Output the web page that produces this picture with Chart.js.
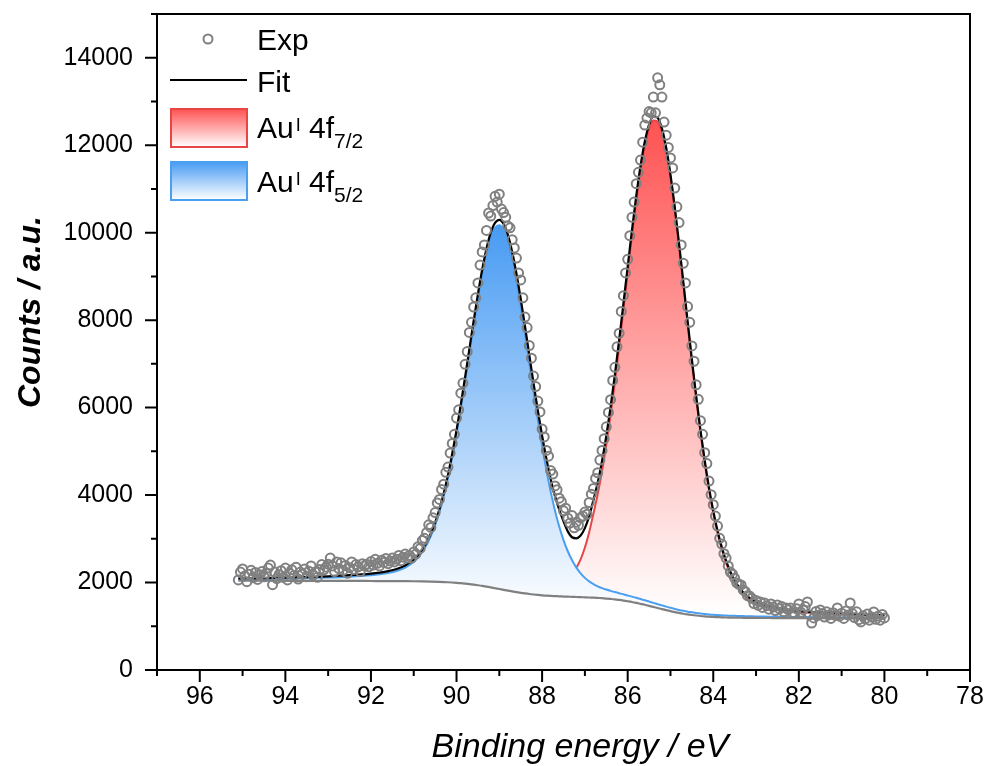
<!DOCTYPE html>
<html>
<head>
<meta charset="utf-8">
<script src="https://cdn.jsdelivr.net/npm/chart.js@4.4.1/dist/chart.umd.min.js"></script>
<style>
  html, body { margin: 0; padding: 0; background: #fff; }
  canvas { display: block; }
</style>
</head>
<body>
<canvas id="xpsChart" width="992" height="766"></canvas>
<script>
// axis ticks
var xTicks = [96, 94, 92, 90, 88, 86, 84, 82, 80, 78];
var xMinorTicks = [97, 95, 93, 91, 89, 87, 85, 83, 81, 79];
var yTicks = [0, 2000, 4000, 6000, 8000, 10000, 12000, 14000];
var yMinorTicks = [1000, 3000, 5000, 7000, 9000, 11000, 13000, 15000];

// measured points (Exp)
var expEnergy = [
  95.1,95.05,95,94.95,94.9,94.85,94.8,94.75,94.7,94.65,94.6,94.55,94.5,94.45,94.4,94.35,94.3,94.25,94.2,94.15,
  94.1,94.05,94,93.95,93.9,93.85,93.8,93.75,93.7,93.65,93.6,93.55,93.5,93.45,93.4,93.35,93.3,93.25,93.2,93.15,
  93.1,93.05,93,92.95,92.9,92.85,92.8,92.75,92.7,92.65,92.6,92.55,92.5,92.45,92.4,92.35,92.3,92.25,92.2,92.15,
  92.1,92.05,92,91.95,91.9,91.85,91.8,91.75,91.7,91.65,91.6,91.55,91.5,91.45,91.4,91.35,91.3,91.25,91.2,91.15,
  91.1,91.05,91,90.95,90.9,90.85,90.8,90.75,90.7,90.65,90.6,90.55,90.5,90.45,90.4,90.35,90.3,90.25,90.2,90.15,
  90.1,90.05,90,89.95,89.9,89.85,89.8,89.75,89.7,89.65,89.6,89.55,89.5,89.45,89.4,89.35,89.3,89.25,89.2,89.15,
  89.1,89.05,89,88.95,88.9,88.85,88.8,88.75,88.7,88.65,88.6,88.55,88.5,88.45,88.4,88.35,88.3,88.25,88.2,88.15,
  88.1,88.05,88,87.95,87.9,87.85,87.8,87.75,87.7,87.65,87.6,87.55,87.5,87.45,87.4,87.35,87.3,87.25,87.2,87.15,
  87.1,87.05,87,86.95,86.9,86.85,86.8,86.75,86.7,86.65,86.6,86.55,86.5,86.45,86.4,86.35,86.3,86.25,86.2,86.15,
  86.1,86.05,86,85.95,85.9,85.85,85.8,85.75,85.7,85.65,85.6,85.55,85.5,85.45,85.4,85.35,85.3,85.25,85.2,85.15,
  85.1,85.05,85,84.95,84.9,84.85,84.8,84.75,84.7,84.65,84.6,84.55,84.5,84.45,84.4,84.35,84.3,84.25,84.2,84.15,
  84.1,84.05,84,83.95,83.9,83.85,83.8,83.75,83.7,83.65,83.6,83.55,83.5,83.45,83.4,83.35,83.3,83.25,83.2,83.15,
  83.1,83.05,83,82.95,82.9,82.85,82.8,82.75,82.7,82.65,82.6,82.55,82.5,82.45,82.4,82.35,82.3,82.25,82.2,82.15,
  82.1,82.05,82,81.95,81.9,81.85,81.8,81.75,81.7,81.65,81.6,81.55,81.5,81.45,81.4,81.35,81.3,81.25,81.2,81.15,
  81.1,81.05,81,80.95,80.9,80.85,80.8,80.75,80.7,80.65,80.6,80.55,80.5,80.45,80.4,80.35,80.3,80.25,80.2,80.15,
  80.1,80.05,80
];
var expCounts = [
  2060,2240,2310,2150,2020,2190,2280,2110,2230,2070,2180,2250,2130,2210,2330,2400,1950,2240,2090,2180,
  2270,2120,2330,2060,2210,2290,2160,2350,2080,2240,2190,2310,2130,2260,2380,2170,2240,2120,2300,2410,
  2290,2350,2420,2560,2380,2250,2470,2320,2450,2280,2390,2210,2340,2470,2300,2410,2360,2250,2430,2380,
  2420,2360,2480,2400,2530,2440,2380,2510,2460,2550,2430,2490,2560,2470,2530,2620,2500,2580,2650,2560,
  2620,2560,2700,2650,2820,2780,2960,3010,3140,3320,3260,3480,3600,3820,3900,4130,4250,4520,4640,4960,
  5180,5390,5760,5950,6330,6560,6990,7280,7720,7950,8300,8510,8850,9260,9560,9720,10050,10450,10380,10620,
  10830,10700,10880,10540,10460,10350,10150,10110,9840,9650,9420,9080,8920,8510,8070,7830,7420,7130,6720,6480,
  6150,5900,5510,5330,5020,4890,4560,4480,4210,4120,3930,3850,3640,3700,3470,3360,3530,3250,3380,3310,
  3480,3520,3610,3560,3830,4020,4150,4380,4510,4800,5020,5290,5560,5890,6180,6620,6920,7390,7700,8200,
  8560,9080,9390,9930,10350,10700,11120,11380,11660,12070,12460,12620,12770,12740,13100,12740,13540,13380,13100,12530,
  12230,11950,11710,11480,11020,10590,10230,9720,9300,8850,8310,7950,7410,7060,6520,6190,5700,5390,4970,4720,
  4320,4010,3780,3520,3290,3010,2880,2660,2560,2380,2240,2190,2100,1990,1960,1944,1830,1790,1700,1690,
  1640,1520,1590,1480,1555,1430,1530,1470,1390,1510,1440,1360,1486,1400,1450,1330,1420,1380,1418,1310,
  1290,1400,1510,1320,1380,1450,1555,1260,1075,1190,1340,1250,1372,1290,1210,1330,1260,1180,1310,1250,
  1418,1230,1300,1180,1350,1260,1532,1290,1200,1330,1150,1098,1240,1170,1280,1140,1210,1326,1160,1230,
  1140,1270,1190
];

// fitted curves
var curveEnergy = [
  95.1, 94.5, 94.0, 93.5, 93.0, 92.5, 92.0, 91.8, 91.6, 91.4, 91.2, 91.0, 90.8, 90.6, 90.4, 90.2,
  90.0, 89.9, 89.8, 89.7, 89.6, 89.5, 89.4, 89.3, 89.2, 89.1,
  89.0, 88.9, 88.8, 88.7, 88.6, 88.5, 88.4, 88.3, 88.2, 88.1,
  88.0, 87.9, 87.8, 87.7, 87.6, 87.5, 87.4, 87.3, 87.2, 87.1,
  87.0, 86.9, 86.8, 86.7, 86.6, 86.5, 86.4, 86.3, 86.2, 86.1,
  86.0, 85.9, 85.8, 85.7, 85.6, 85.5, 85.4, 85.3, 85.2, 85.1,
  85.0, 84.9, 84.8, 84.7, 84.6, 84.5, 84.4, 84.3, 84.2, 84.1,
  84.0, 83.9, 83.8, 83.7, 83.6, 83.5, 83.4, 83.3, 83.2, 83.1,
  83.0, 82.8, 82.6, 82.4, 82.0, 81.5, 81.0, 80.5, 80.0
];
var background = [
  2042, 2041, 2040, 2039, 2038, 2037, 2035, 2034, 2033, 2032, 2031, 2029, 2026, 2022, 2016, 2007,
  1994, 1986, 1976, 1965, 1952, 1938, 1923, 1906, 1889, 1870,
  1852, 1833, 1815, 1797, 1781, 1765, 1751, 1738, 1727, 1717,
  1708, 1700, 1694, 1689, 1684, 1680, 1676, 1673, 1669, 1666,
  1662, 1658, 1654, 1648, 1642, 1634, 1625, 1615, 1602, 1588,
  1572, 1555, 1535, 1513, 1491, 1467, 1442, 1417, 1393, 1369,
  1346, 1325, 1305, 1287, 1271, 1258, 1246, 1235, 1226, 1219,
  1213, 1209, 1205, 1201, 1199, 1197, 1195, 1194, 1192, 1191,
  1190, 1189, 1188, 1187, 1185, 1183, 1182, 1181, 1180
];
var au52 = [
  2076, 2082, 2089, 2100, 2114, 2135, 2167, 2188, 2217, 2263, 2342, 2474, 2698, 3061, 3612, 4392,
  5407, 5992, 6611, 7251, 7889, 8500, 9058, 9530, 9890, 10109,
  10172, 10072, 9816, 9421, 8916, 8327, 7688, 7024, 6362, 5723,
  5121, 4571, 4079, 3649, 3280, 2971, 2715, 2508, 2341, 2211,
  2107, 2027, 1965, 1914, 1873, 1839, 1809, 1782, 1756, 1730,
  1704, 1678, 1651, 1622, 1594, 1565, 1535, 1505, 1477, 1449,
  1422, 1397, 1374, 1353, 1334, 1319, 1304, 1291, 1280, 1270,
  1262, 1257, 1251, 1245, 1242, 1238, 1235, 1232, 1229, 1227,
  1225, 1221, 1219, 1216, 1211, 1205, 1202, 1198, 1196
];
// 4f7/2 component starts at 87.3 eV
var au72Start = 87.3;
var au72 = [
  2200, 2340, 2530,
  2800, 3150, 3579, 4021, 4543, 5146, 5827, 6579, 7387, 8234,
  9094, 9937, 10725, 11419, 11982, 12374, 12565, 12540, 12300, 11860,
  11252, 10515, 9687, 8809, 7917, 7043, 6210, 5437, 4738, 4120,
  3586, 3134, 2757, 2449, 2203, 2007, 1854, 1736, 1645, 1575,
  1522, 1450, 1403, 1371, 1328, 1292, 1269, 1251, 1238
];
var fit = [
  2094, 2102, 2112, 2125, 2143, 2168, 2205, 2228, 2260, 2309, 2391, 2526, 2754, 3121, 3677, 4462,
  5483, 6072, 6694, 7338, 7980, 8595, 9157, 9634, 9999, 10224,
  10293, 10200, 9951, 9564, 9067, 8488, 7860, 7208, 6560, 5938,
  5356, 4832, 4370, 3981, 3664, 3400, 3170, 3035, 3012, 3075,
  3245, 3519, 3890, 4287, 4774, 5351, 6011, 6746, 7541, 8376,
  9226, 10060, 10841, 11528, 12085, 12472, 12658, 12628, 12384, 11940,
  11328, 10587, 9756, 8875, 7980, 7104, 6268, 5493, 4792, 4171,
  3635, 3182, 2803, 2493, 2246, 2048, 1894, 1774, 1682, 1611,
  1557, 1482, 1434, 1400, 1354, 1314, 1289, 1268, 1254
];

var FONT = '"Liberation Sans", Arial, sans-serif';
Chart.defaults.font.family = FONT;
Chart.defaults.color = '#000';

function pts(xs, ys) {
  var out = [];
  for (var i = 0; i < ys.length; i++) out.push({ x: xs[i], y: ys[i] });
  return out;
}

function peakFill(context, rgb, topValue) {
  var chart = context.chart;
  if (!chart.chartArea) return 'rgba(' + rgb + ',0.4)';
  var y = chart.scales.y;
  var g = chart.ctx.createLinearGradient(0, y.getPixelForValue(topValue), 0, y.getPixelForValue(1300));
  g.addColorStop(0, 'rgb(' + rgb + ')');
  g.addColorStop(1, 'rgb(255,255,255)');
  return g;
}

var RED = '255,82,82';
var BLUE = '72,155,243';

function drawRich(ctx, x, y, parts) {
  parts.forEach(function (p) {
    ctx.font = p.size + 'px ' + FONT;
    ctx.fillText(p.text, x, y + p.dy);
    x += ctx.measureText(p.text).width + (p.gap || 0);
  });
}

function legendBox(ctx, top, rgb, line) {
  var g = ctx.createLinearGradient(0, top, 0, top + 38);
  g.addColorStop(0, 'rgb(' + rgb + ')');
  g.addColorStop(1, 'rgb(255,255,255)');
  ctx.fillStyle = g;
  ctx.fillRect(171, top, 76, 38);
  ctx.strokeStyle = line;
  ctx.lineWidth = 2;
  ctx.strokeRect(171, top, 76, 38);
}

var frameAndLegend = {
  id: 'frameAndLegend',
  afterDraw: function (chart) {
    var ctx = chart.ctx, a = chart.chartArea;
    var xs = chart.scales.x, ys = chart.scales.y;
    ctx.save();
    ctx.strokeStyle = '#000';
    ctx.lineWidth = 2;
    ctx.strokeRect(a.left, a.top, a.right - a.left, a.bottom - a.top);
    ctx.beginPath();
    xTicks.forEach(function (v) { var p = xs.getPixelForValue(v); ctx.moveTo(p, a.bottom); ctx.lineTo(p, a.bottom + 12); });
    xMinorTicks.forEach(function (v) { var p = xs.getPixelForValue(v); ctx.moveTo(p, a.bottom); ctx.lineTo(p, a.bottom + 6); });
    yTicks.forEach(function (v) { var p = ys.getPixelForValue(v); ctx.moveTo(a.left, p); ctx.lineTo(a.left - 12, p); });
    yMinorTicks.forEach(function (v) { var p = ys.getPixelForValue(v); ctx.moveTo(a.left, p); ctx.lineTo(a.left - 6, p); });
    ctx.stroke();

    // axis titles
    ctx.fillStyle = '#000';
    ctx.textAlign = 'center';
    ctx.textBaseline = 'alphabetic';
    ctx.font = 'italic 34px ' + FONT;
    ctx.fillText('Binding energy / eV', 580, 757);
    ctx.save();
    ctx.translate(40, 312);
    ctx.rotate(-Math.PI / 2);
    ctx.font = 'italic bold 32px ' + FONT;
    ctx.fillText('Counts / a.u.', 0, 0);
    ctx.restore();

    // legend
    ctx.textAlign = 'left';
    ctx.strokeStyle = '#7f7f7f';
    ctx.lineWidth = 2;
    ctx.beginPath();
    ctx.arc(208, 39, 4.5, 0, Math.PI * 2);
    ctx.stroke();
    ctx.strokeStyle = '#000';
    ctx.beginPath();
    ctx.moveTo(170, 80);
    ctx.lineTo(247, 80);
    ctx.stroke();
    legendBox(ctx, 109, RED, '#e84545');
    legendBox(ctx, 162, BLUE, '#4a9ff0');
    ctx.fillStyle = '#000';
    drawRich(ctx, 257, 50, [{ text: 'Exp', size: 30, dy: 0 }]);
    drawRich(ctx, 257, 92, [{ text: 'Fit', size: 30, dy: 0 }]);
    drawRich(ctx, 257, 138, [
      { text: 'Au', size: 30, dy: 0, gap: 2 },
      { text: 'I', size: 18, dy: -7 },
      { text: ' 4f', size: 30, dy: 0 },
      { text: '7/2', size: 21, dy: 10 }
    ]);
    drawRich(ctx, 257, 192, [
      { text: 'Au', size: 30, dy: 0, gap: 2 },
      { text: 'I', size: 18, dy: -7 },
      { text: ' 4f', size: 30, dy: 0 },
      { text: '5/2', size: 21, dy: 10 }
    ]);
    ctx.restore();
  }
};

new Chart('xpsChart', {
  type: 'line',
  data: {
    datasets: [
      {
        label: 'Exp',
        order: 0,
        data: pts(expEnergy, expCounts),
        showLine: false,
        pointRadius: 4.5,
        pointBorderWidth: 2,
        pointBorderColor: '#808080',
        pointBackgroundColor: 'rgba(0,0,0,0)'
      },
      {
        label: 'Fit',
        order: 1,
        data: pts(curveEnergy, fit),
        borderColor: '#000',
        borderWidth: 2.2,
        pointRadius: 0,
        cubicInterpolationMode: 'monotone',
        fill: false
      },
      {
        label: 'AuI 4f5/2',
        order: 3,
        data: pts(curveEnergy, au52),
        borderColor: '#4a9ff0',
        borderWidth: 2,
        pointRadius: 0,
        cubicInterpolationMode: 'monotone',
        fill: 4,
        backgroundColor: function (c) { return peakFill(c, BLUE, 10150); }
      },
      {
        label: 'AuI 4f7/2',
        order: 4,
        data: pts(curveEnergy.slice(curveEnergy.indexOf(au72Start)), au72),
        borderColor: '#e84545',
        borderWidth: 2,
        pointRadius: 0,
        cubicInterpolationMode: 'monotone',
        fill: 4,
        backgroundColor: function (c) { return peakFill(c, RED, 12550); }
      },
      {
        label: 'Background',
        order: 2,
        data: pts(curveEnergy, background),
        borderColor: '#808080',
        borderWidth: 2.2,
        pointRadius: 0,
        cubicInterpolationMode: 'monotone',
        fill: false
      }
    ]
  },
  options: {
    responsive: false,
    animation: false,
    events: [],
    layout: { padding: { left: 0, right: 22, top: 14, bottom: 0 } },
    scales: {
      x: {
        type: 'linear',
        reverse: true,
        min: 78,
        max: 97,
        afterBuildTicks: function (axis) { axis.ticks = xTicks.map(function (v) { return { value: v }; }); },
        afterFit: function (axis) { axis.height = 96; axis.paddingLeft = 0; axis.paddingRight = 0; },
        grid: { display: false, drawTicks: false },
        border: { display: false },
        ticks: { font: { size: 25 }, color: '#000', padding: 12, maxRotation: 0, autoSkip: false,
                 callback: function (v) { return String(v); } }
      },
      y: {
        min: 0,
        max: 15000,
        afterBuildTicks: function (axis) { axis.ticks = yTicks.map(function (v) { return { value: v }; }); },
        afterFit: function (axis) { axis.width = 157; axis.paddingTop = 0; axis.paddingBottom = 0; },
        grid: { display: false, drawTicks: false },
        border: { display: false },
        ticks: { font: { size: 25 }, color: '#000', padding: 24, autoSkip: false,
                 callback: function (v) { return String(v); } }
      }
    },
    plugins: {
      legend: { display: false },
      tooltip: { enabled: false }
    }
  },
  plugins: [frameAndLegend]
});
</script>
</body>
</html>
